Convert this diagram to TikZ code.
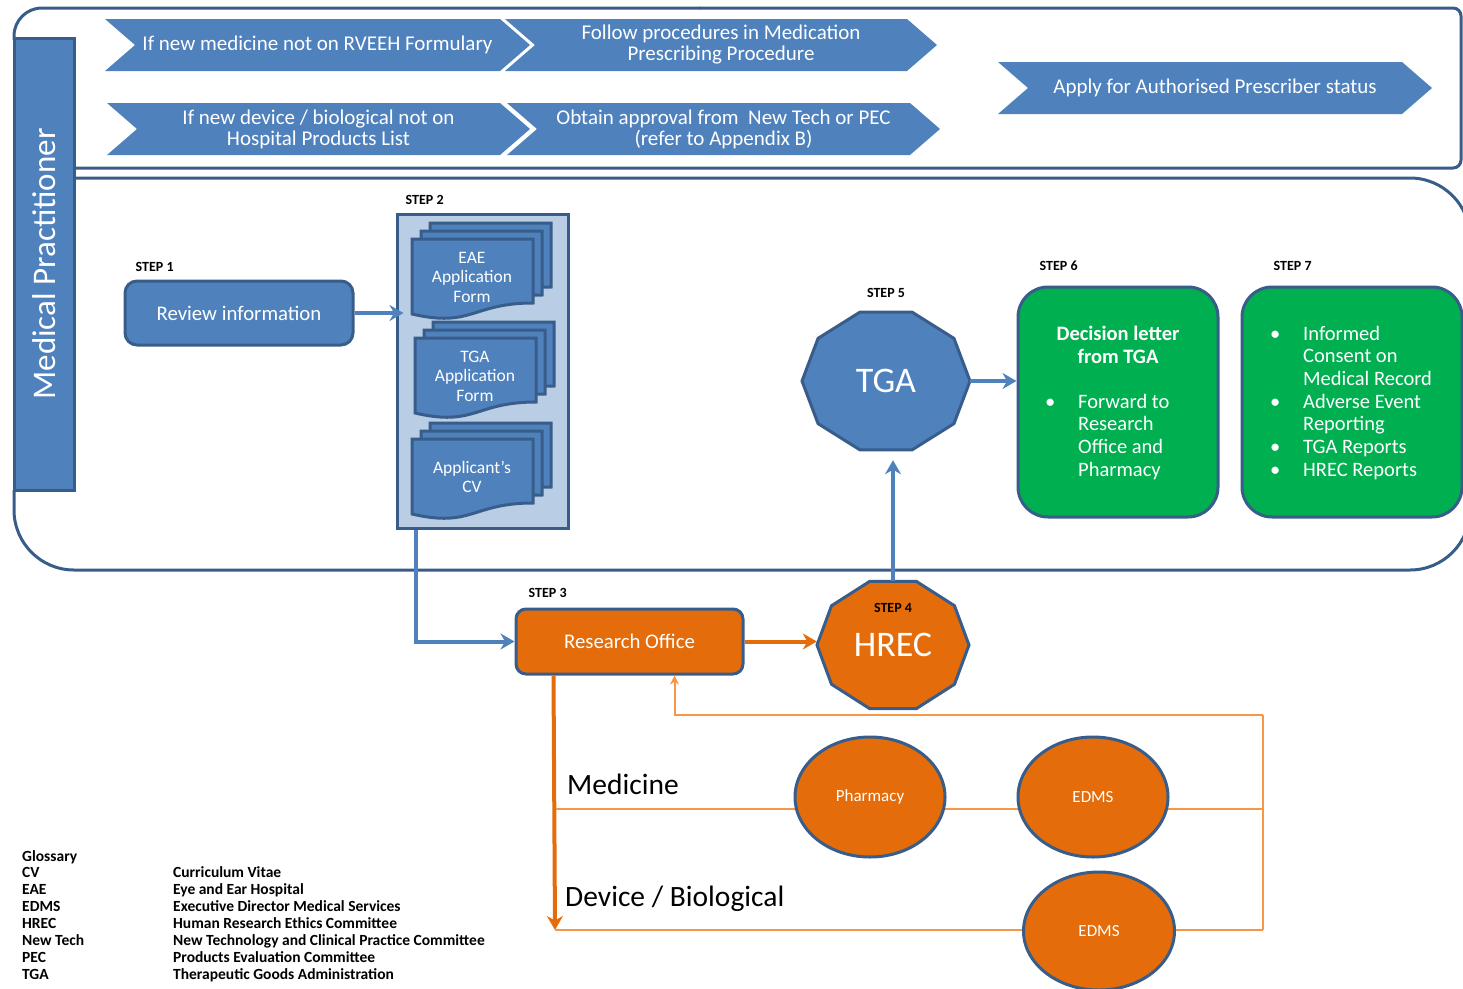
\documentclass[tikz,border=0pt]{standalone}
\usepackage{fontspec}
\setmainfont{Carlito}
\usepackage{xcolor}
\usepackage{tikz}
\usetikzlibrary{positioning, arrows.meta, shapes.geometric}

\definecolor{mpblue}{HTML}{4F81BD}
\definecolor{mpdark}{HTML}{385D8A}
\definecolor{mplight}{HTML}{B9CDE5}
\definecolor{mporange}{HTML}{E46C0A}
\definecolor{mpline}{HTML}{F79646}
\definecolor{mpgreen}{HTML}{00B050}

% chevron: name, left x, right x, top y, text
\newcommand{\chevron}[5]{%
  \fill[mpblue] (#2,#4) -- (#3,#4) -- ({#3+30},{#4+26}) -- (#3,{#4+52}) -- (#2,{#4+52}) -- ({#2+30},{#4+26}) -- cycle;
  \node[chevtext] (#1) at ({(#2+#3)/2+15},{#4+26}) {#5};}

% one page of a document stack, top left corner
\newcommand{\docpage}[2]{%
  \filldraw[docpage] (#1,#2) -- ({#1+121},#2) -- ({#1+121},{#2+64}) .. controls ({#1+60},{#2+64}) and ({#1+60},{#2+89}) .. (#1,{#2+75}) -- cycle;}

% stack of three pages: name, x, y, text
\newcommand{\docstack}[4]{%
  \docpage{#2+18}{#3-16}\docpage{#2+9}{#3-8}\docpage{#2}{#3}
  \node[doctext] (#1) at ({#2+60},{#3+38}) {#4};}

% flat topped decagon: cx, cy, rx, ry, fill
\newcommand{\decagon}[5]{%
  \filldraw[fill=#5, draw=mpdark, line width=3pt] ({#1+#3},#2) \foreach \a in {36,72,...,324} { -- ({#1+#3*cos(\a)},{#2+#4*sin(\a)}) } -- cycle;}

\begin{document}
\begin{tikzpicture}[x=1pt, y=-1pt, >=Stealth,
    frameline/.style={draw=mpdark, line width=3pt},
    chevtext/.style={text=white, align=center, font=\fontsize{21}{21}\selectfont},
    docpage/.style={fill=mpblue, draw=mpdark, line width=3pt},
    doctext/.style={text=white, align=center, font=\fontsize{17.5}{19.5}\selectfont},
    bluebox/.style={draw=mpdark, fill=mpblue, line width=3pt, rounded corners=12pt, text=white, font=\fontsize{20.8}{22.7}\selectfont},
    orangebox/.style={bluebox, fill=mporange, rounded corners=10pt},
    greenbox/.style={draw=mpdark, fill=mpgreen, line width=3pt, rounded corners=30pt},
    greentext/.style={text=white, inner sep=0pt, font=\fontsize{20.5}{22.7}\selectfont},
    bigtext/.style={text=white, font=\fontsize{36}{40}\selectfont},
    orangecirc/.style={ellipse, draw=mpdark, fill=mporange, line width=3pt, text=white, font=\fontsize{17}{19}\selectfont},
    steplbl/.style={inner sep=0pt, font=\bfseries\fontsize{14}{16}\selectfont},
    lanelbl/.style={inner sep=0pt, font=\fontsize{29.5}{32}\selectfont},
    blueflow/.style={draw=mpblue, line width=4pt, -{Stealth[length=14pt, width=16pt]}},
    orangeflow/.style={draw=mporange, line width=4pt, -{Stealth[length=14pt, width=16pt]}},
    thinline/.style={draw=mpline, line width=2pt}]
  \useasboundingbox (0,0) rectangle (1463,988);

  % frames
  \draw[frameline, rounded corners=28pt] (14,40) |- (700,8);
  \draw[frameline, rounded corners=8pt] (699,8) -| (1461,168) -- (74,168);
  \draw[frameline, rounded corners=60pt] (74,178) -| (1470,570) -| (14,490);
  \node[draw=mpdark, fill=mpblue, line width=3pt, rotate=90, minimum width=452pt, minimum height=60pt,
        text=white, font=\fontsize{33}{36}\selectfont] (mp) at (44,264) {Medical Practitioner};

  % chevrons
  \chevron{newmed}{105}{500}{19}{If new medicine not on RVEEH Formulary}
  \chevron{follow}{505}{907}{19}{Follow procedures in Medication\\Prescribing Procedure}
  \chevron{newdev}{107}{500}{103}{If new device / biological not on\\Hospital Products List}
  \chevron{obtain}{507}{910}{103}{Obtain approval from~ New Tech or PEC\\(refer to Appendix B)}
  \chevron{apply}{998}{1402}{62}{Apply for Authorised Prescriber status}

  % step 1 and step 2
  \node[bluebox, minimum width=228pt, minimum height=64pt] (review) at (239,313) {Review information};
  \node[steplbl, above right=8pt and 12pt of review.north west] (stepilbl) {STEP 1};
  \node[draw=mpdark, fill=mplight, line width=3pt, minimum width=171pt, minimum height=314pt] (stepii) at (482.5,371) {};
  \node[steplbl, above right=7.5pt and 10pt of stepii.north west] (stepiilbl) {STEP 2};
  \docstack{eae}{412}{239}{EAE\\Application\\Form}
  \docstack{tgaform}{415}{338}{TGA\\Application\\Form}
  \docstack{cv}{412}{439}{Applicant’s\\CV}

  % step 3, 4, 5
  \node[orangebox, minimum width=227pt, minimum height=65pt] (research) at (629.5,641.5) {Research Office};
  \node[steplbl, above right=9.5pt and 14pt of research.north west] (stepiiilbl) {STEP 3};
  \decagon{886}{381}{84}{72.5}{mpblue}
  \node[bigtext, minimum width=168pt, minimum height=138pt] (tga) at (886,381) {TGA};
  \node[steplbl, above=14.5pt of tga.north] (stepvlbl) {STEP 5};
  \decagon{893}{645}{76}{66.8}{mporange}
  \node[bigtext, minimum width=152pt, minimum height=127pt] (hrec) at (893,645) {HREC};
  \node[steplbl] (stepivlbl) at (893,608) {STEP 4};

  % step 6 and 7
  \node[greenbox, minimum width=200pt, minimum height=230pt] (stepvi) at (1118,402) {};
  \node[steplbl, above right=14.5pt and 23pt of stepvi.north west] (stepvilbl) {STEP 6};
  \node[greentext, align=center, anchor=north, font=\bfseries\fontsize{20.5}{22.7}\selectfont] (decision) at (1118,326) {Decision letter\\from TGA};
  \node[greentext, anchor=north west] (forward) at (1045,392) {\begin{tabular}{@{}p{33pt}@{}l@{}}
      \textbullet & Forward to\\ & Research\\ & Office and\\ & Pharmacy\end{tabular}};
  \node[greenbox, minimum width=220pt, minimum height=230pt] (stepvii) at (1352,402) {};
  \node[steplbl, above right=14.5pt and 33pt of stepvii.north west] (stepviilbl) {STEP 7};
  \node[greentext, anchor=north west] (reports) at (1270,324) {\begin{tabular}{@{}p{33pt}@{}l@{}}
      \textbullet & Informed\\ & Consent on\\ & Medical Record\\ \textbullet & Adverse Event\\ & Reporting\\
      \textbullet & TGA Reports\\ \textbullet & HREC Reports\end{tabular}};

  % main flow
  \draw[blueflow, shorten >=-8pt] (review) -- (review -| stepii.west);
  \draw[blueflow] ([xshift=20pt]stepii.south west) |- (research);
  \draw[orangeflow] (research.east) -- (research.east -| hrec.west);
  \draw[blueflow, shorten >=10pt] (hrec.north) -- (hrec.north |- tga.south);
  \draw[blueflow] (tga.east) -- (tga.east -| stepvi.west);

  % medicine and device lanes
  \coordinate (devL) at (555,930);
  \coordinate (devR) at (1263,930);
  \coordinate (medL) at (556,809);
  \coordinate (medR) at (1263,809);
  \coordinate (fbR) at (1263,715);
  \draw[orangeflow] ([xshift=39pt]research.south west) -- (devL);
  \draw[thinline, -{Stealth[length=9pt, width=9pt]}] (fbR) -| ([xshift=160pt]research.south west);
  \draw[thinline] (fbR) -- (devR);
  \draw[thinline] (medL) -- (medR);
  \draw[thinline] (devL) -- (devR);
  \node[orangecirc, minimum width=150pt, minimum height=120pt] (pharm) at (870,797) {Pharmacy};
  \node[orangecirc, minimum width=150pt, minimum height=120pt] (edmsa) at (1093,797) {EDMS};
  \node[orangecirc, minimum width=151pt, minimum height=118pt] (edmsb) at (1099,931) {EDMS};
  \node[lanelbl, anchor=base west] (medlbl) at (567,794) {Medicine};
  \node[lanelbl, anchor=base west] (devlbl) at (565,906) {Device / Biological};

  % glossary
  \node[anchor=north west, inner sep=0pt, font=\bfseries\fontsize{15.5}{16.9}\selectfont] (gloss) at (22,849) {%
    \begin{tabular}{@{}p{151pt}@{}l@{}}
      Glossary & \\
      CV & Curriculum Vitae\\
      EAE & Eye and Ear Hospital\\
      EDMS & Executive Director Medical Services\\
      HREC & Human Research Ethics Committee\\
      New Tech & New Technology and Clinical Practice Committee\\
      PEC & Products Evaluation Committee\\
      TGA & Therapeutic Goods Administration
    \end{tabular}};
\end{tikzpicture}
\end{document}
